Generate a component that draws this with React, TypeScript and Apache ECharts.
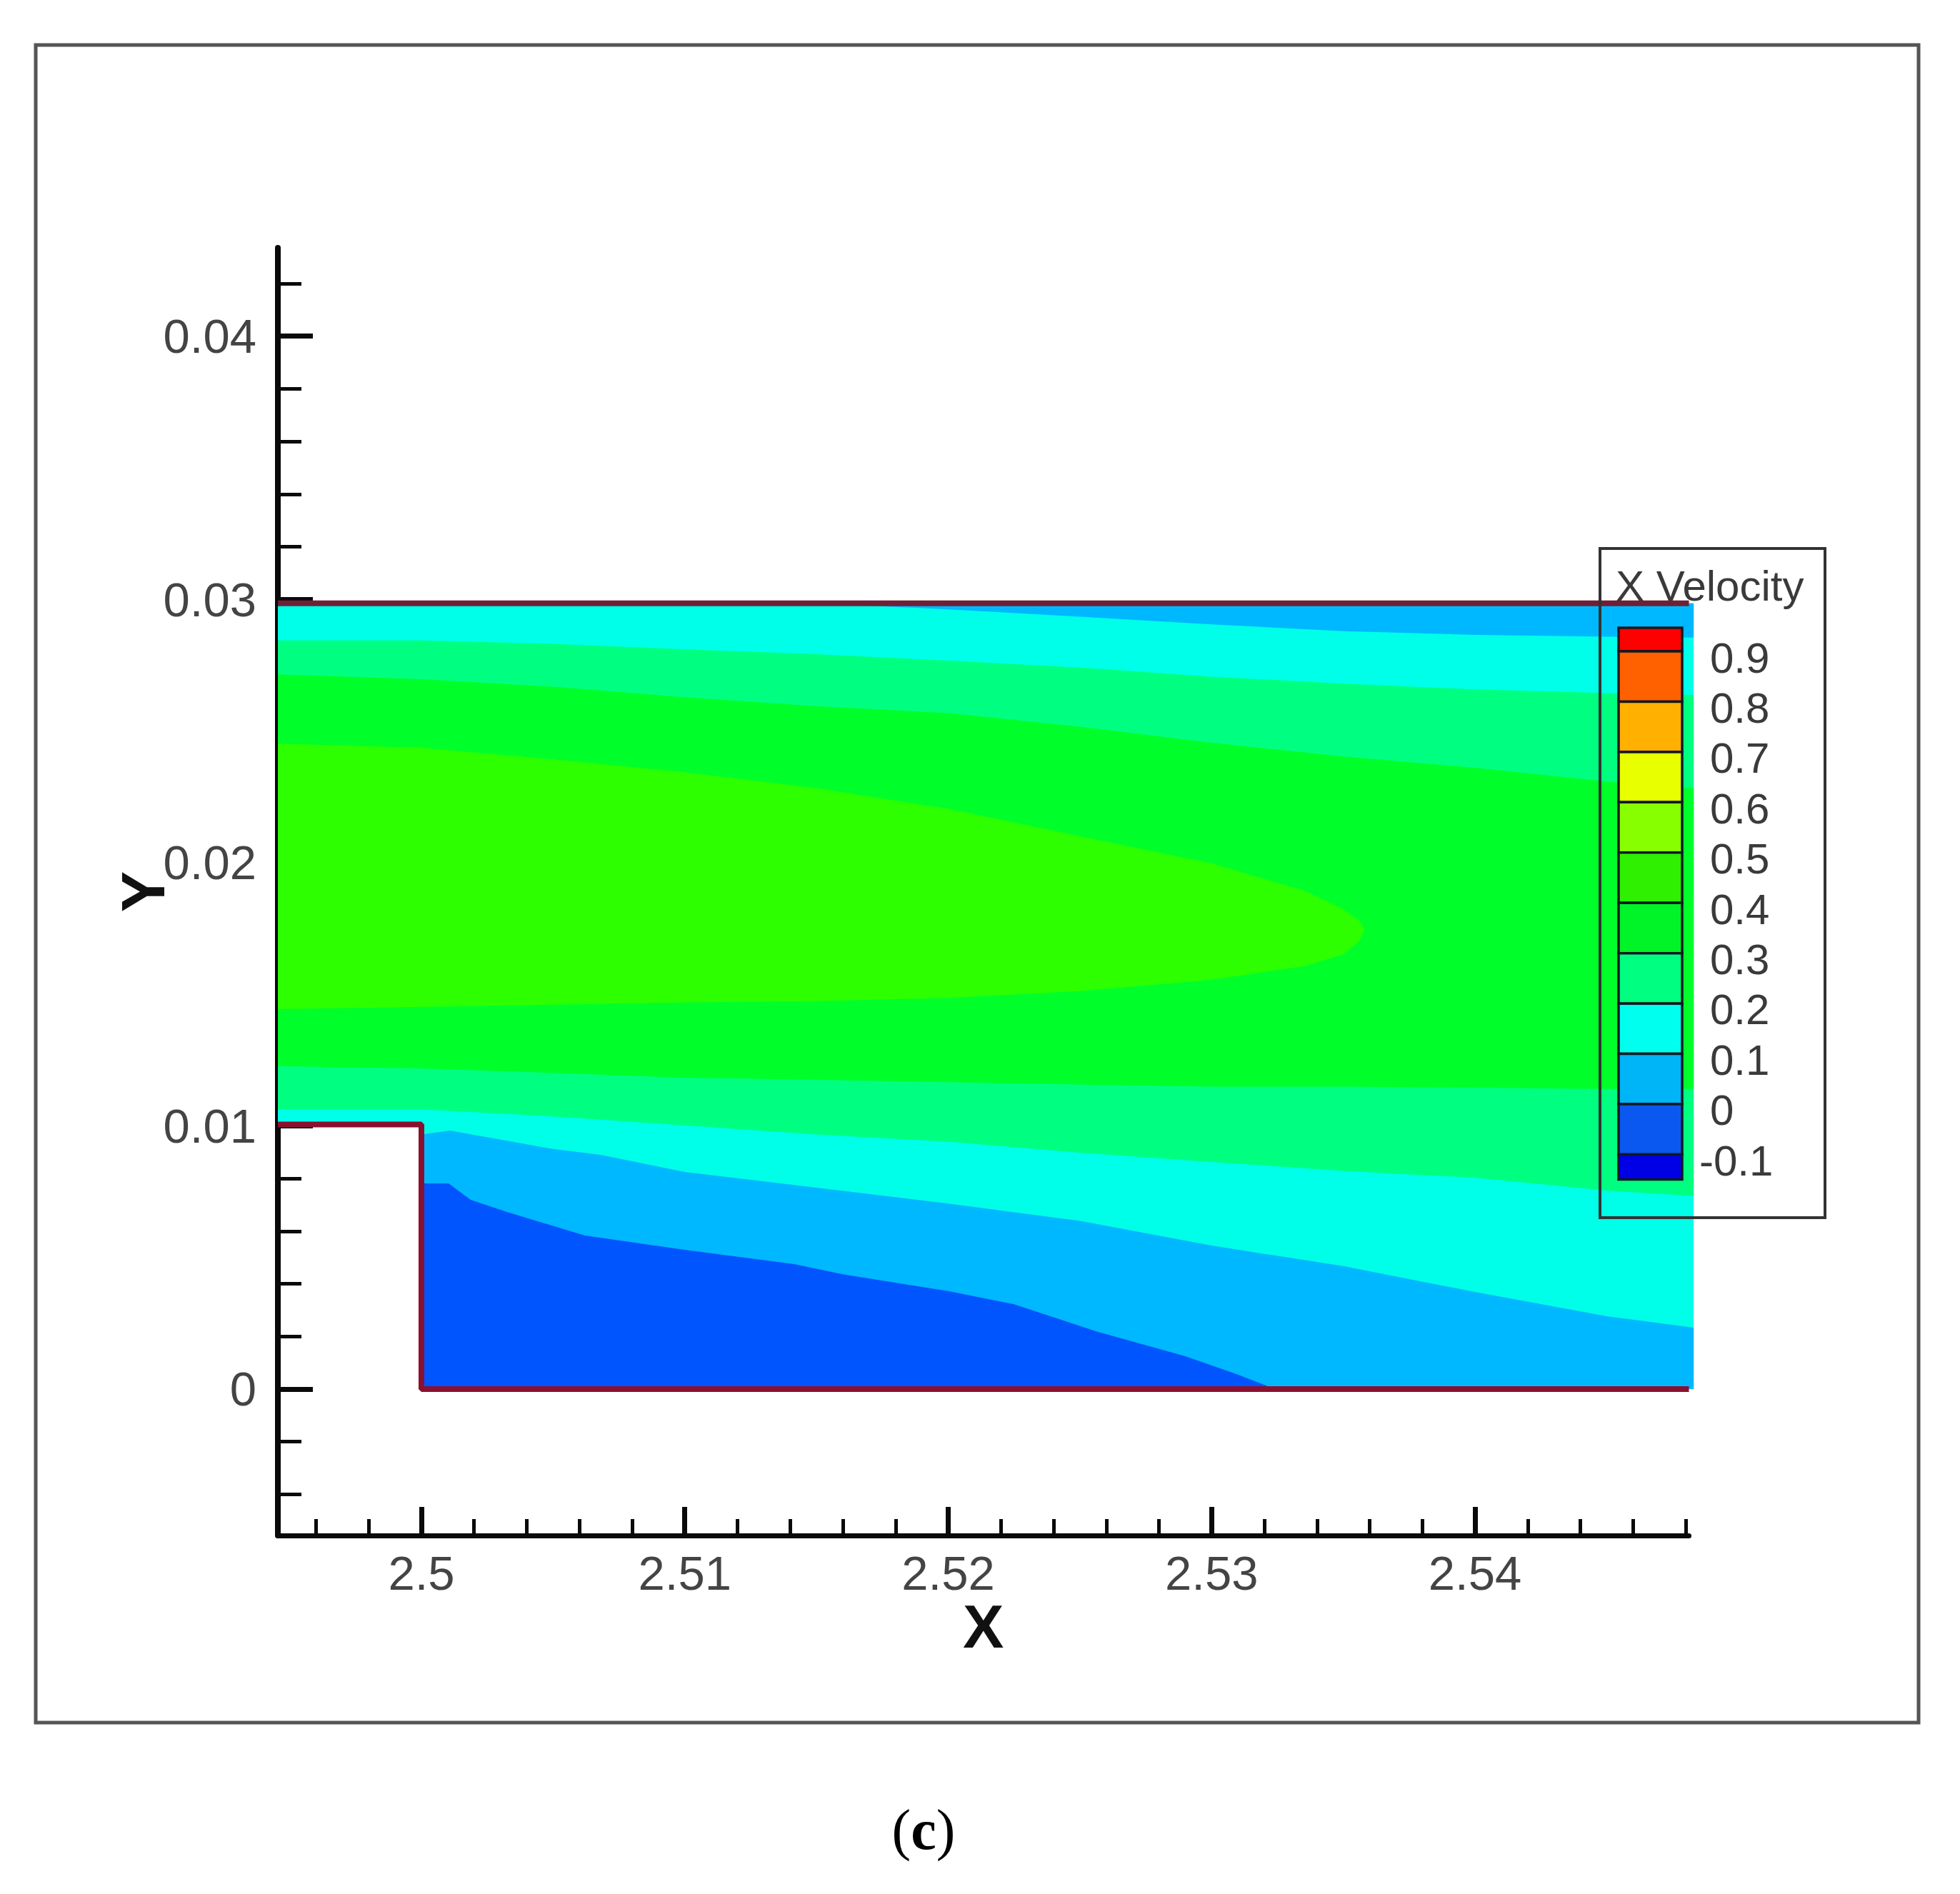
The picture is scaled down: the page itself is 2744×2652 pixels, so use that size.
import { useEffect, useRef } from 'react'
import * as echarts from 'echarts'

type Pt = [number, number]

const X_MIN = 2.49455
const X_MAX = 2.54812
const X_EDGE = 2.5483 // the coloured field runs a touch past the axis end
const Y_MIN = -0.005562
const Y_MAX = 0.043354

const xMajorTicks = [2.5, 2.51, 2.52, 2.53, 2.54]
const xMinorTicks = [
  2.496, 2.498, 2.502, 2.504, 2.506, 2.508, 2.512, 2.514, 2.516, 2.518, 2.522, 2.524, 2.526, 2.528, 2.532, 2.534,
  2.536, 2.538, 2.542, 2.544, 2.546, 2.548,
]
const yMajorTicks = [0, 0.01, 0.02, 0.03, 0.04]
const yMinorTicks = [
  -0.004, -0.002, 0.002, 0.004, 0.006, 0.008, 0.012, 0.014, 0.016, 0.018, 0.022, 0.024, 0.026, 0.028, 0.032, 0.034,
  0.036, 0.038, 0.042,
]

const legendLabels = ['0.9', '0.8', '0.7', '0.6', '0.5', '0.4', '0.3', '0.2', '0.1', '0', '-0.1']
const legendColors = [
  '#ff0000', '#ff6000', '#ffb000', '#e8ff00', '#88ff00', '#2ff000', '#00f428', '#00ff80', '#00ffee', '#00b4f8',
  '#0a58f0', '#0000e6',
]

const WALL_TOP = 0.02985
const STEP_TOP = 0.01005

// field outline
const fieldOutline: Pt[] = [
  [X_MIN, WALL_TOP], [X_EDGE, WALL_TOP], [X_EDGE, 0], [2.5, 0], [2.5, STEP_TOP], [X_MIN, STEP_TOP],
]

// contour lines, left to right
const topBlueEdge: Pt[] = [
  [2.515, WALL_TOP], [2.52, 0.02962], [2.525, 0.02934], [2.53, 0.02905], [2.535, 0.02879], [2.54, 0.02865],
  [2.545, 0.02858], [X_EDGE, 0.02855],
]
const upperMint: Pt[] = [
  [X_MIN, 0.02844], [2.5, 0.02844], [2.505, 0.02831], [2.51, 0.0281], [2.515, 0.02792], [2.52, 0.02767],
  [2.525, 0.02741], [2.53, 0.02706], [2.535, 0.0268], [2.54, 0.02658], [2.545, 0.02644], [X_EDGE, 0.02637],
]
const upperGreen: Pt[] = [
  [X_MIN, 0.02715], [2.5, 0.02697], [2.505, 0.02668], [2.51, 0.02628], [2.515, 0.02594], [2.52, 0.02568],
  [2.525, 0.02516], [2.53, 0.02455], [2.535, 0.02403], [2.54, 0.0236], [2.545, 0.02308], [X_EDGE, 0.02282],
]
const lowerGreen: Pt[] = [
  [X_MIN, 0.01227], [2.5, 0.01218], [2.505, 0.01201], [2.51, 0.01183], [2.515, 0.01175], [2.52, 0.01166],
  [2.525, 0.01157], [2.53, 0.01149], [2.535, 0.01149], [2.54, 0.01145], [2.545, 0.0114], [X_EDGE, 0.0114],
]
const lowerMint: Pt[] = [
  [X_MIN, 0.01062], [2.5, 0.01062], [2.505, 0.01036], [2.51, 0.01002], [2.515, 0.00967], [2.52, 0.0094],
  [2.525, 0.00898], [2.53, 0.00863], [2.535, 0.00829], [2.54, 0.00803], [2.545, 0.00754], [X_EDGE, 0.00734],
]
const lensOutline: Pt[] = [
  [X_MIN, 0.02452], [2.5, 0.02436], [2.505, 0.02392], [2.51, 0.02343], [2.515, 0.02282], [2.52, 0.02204],
  [2.525, 0.021], [2.53, 0.01997], [2.53352, 0.01893], [2.53498, 0.01824], [2.5356, 0.0178], [2.53581, 0.01746],
  [2.5356, 0.01702], [2.53498, 0.01651], [2.53352, 0.01607], [2.53, 0.01555], [2.525, 0.01512], [2.52, 0.01486],
  [2.515, 0.01474], [2.51, 0.01469], [2.505, 0.0146], [2.5, 0.01452], [X_MIN, 0.01443],
]
const lightBlueEdge: Pt[] = [
  [2.5, 0.00967], [2.50108, 0.00982], [2.505, 0.00912], [2.5068, 0.0089], [2.51, 0.00825], [2.515, 0.00765],
  [2.52, 0.00705], [2.525, 0.00639], [2.53, 0.00545], [2.535, 0.00467], [2.54, 0.00369], [2.545, 0.00277],
  [X_EDGE, 0.00233],
]
const blueEdge: Pt[] = [
  [2.5, 0.00781], [2.50103, 0.00781], [2.50187, 0.00719], [2.50325, 0.00673], [2.50621, 0.00583], [2.51, 0.00529],
  [2.51415, 0.00475], [2.516, 0.00436], [2.52, 0.00372], [2.5225, 0.00322], [2.5256, 0.0022], [2.529, 0.00125],
  [2.531, 0.00055], [2.5324, 0],
]

const wallTop: Pt[] = [[X_MIN, WALL_TOP], [X_MAX, WALL_TOP]]
const wallBottom: Pt[] = [[X_MIN, STEP_TOP], [2.5, STEP_TOP], [2.5, 0], [X_MAX, 0]]

const bands: { color: string; points: Pt[] }[] = [
  { color: '#00ffe8', points: fieldOutline },
  { color: '#00b8ff', points: [...topBlueEdge, [X_EDGE, WALL_TOP]] },
  { color: '#00ff80', points: [...upperMint, ...[...lowerMint].reverse()] },
  { color: '#00ff2a', points: [...upperGreen, ...[...lowerGreen].reverse()] },
  { color: '#2dff00', points: lensOutline },
  { color: '#00b8ff', points: [...lightBlueEdge, [X_EDGE, 0], [2.5, 0]] },
  { color: '#0055ff', points: [...blueEdge, [2.5, 0]] },
]

const FONT = '"Liberation Sans", Arial, sans-serif'

function legendGraphics() {
  const left = 2266
  const width = 89
  const top = 879
  const step = 70.45
  const items: any[] = []
  let y = top
  legendColors.forEach((color, i) => {
    const h = i === 0 ? 33 : i === legendColors.length - 1 ? 35 : step
    items.push({
      type: 'rect',
      z: 20,
      shape: { x: left, y, width, height: h },
      style: { fill: color, stroke: '#101820', lineWidth: 3.5 },
    })
    y += h
  })
  legendLabels.forEach((label, i) => {
    items.push({
      type: 'text',
      z: 20,
      x: label.startsWith('-') ? 2379 : 2394,
      y: 921 + i * 70.4,
      style: { text: label, font: `60px ${FONT}`, fill: '#3a3a3a', align: 'left', verticalAlign: 'middle' },
    })
  })
  items.push({
    type: 'rect',
    z: 20,
    shape: { x: 2240, y: 768, width: 315, height: 937 },
    style: { fill: 'transparent', stroke: '#333', lineWidth: 4 },
  })
  items.push({
    type: 'text',
    z: 20,
    x: 2262,
    y: 820,
    style: { text: 'X Velocity', font: `60px ${FONT}`, fill: '#3a3a3a', align: 'left', verticalAlign: 'middle' },
  })
  return items
}

export default function App() {
  const ref = useRef<HTMLDivElement | null>(null)

  useEffect(() => {
    if (!ref.current) return
    const chart = echarts.init(ref.current, null, { renderer: 'svg' })
    const tickLabel = { fontFamily: FONT, fontSize: 67, color: '#444' }
    const nameStyle = { fontFamily: FONT, fontSize: 86, fontWeight: 'bold' as const, color: '#111' }
    const black = '#0a0a0a'

    chart.setOption({
      animation: false,
      backgroundColor: '#fff',
      grid: { left: 389, top: 347, width: 1975.5, height: 1803, containLabel: false },
      xAxis: [
        {
          type: 'value',
          min: X_MIN,
          max: X_MAX,
          position: 'bottom',
          name: 'X',
          nameLocation: 'middle',
          nameGap: 84,
          nameMoveOverlap: false,
          nameTextStyle: nameStyle,
          splitLine: { show: false },
          axisLine: { show: true, onZero: false, lineStyle: { color: black, width: 7 } },
          axisTick: { show: true, inside: true, length: 40, customValues: xMajorTicks, lineStyle: { color: black, width: 7 } },
          axisLabel: { ...tickLabel, margin: 19, customValues: xMajorTicks, formatter: (v: number) => String(v) },
        },
        {
          type: 'value',
          min: X_MIN,
          max: X_MAX,
          position: 'bottom',
          splitLine: { show: false },
          axisLine: { show: false, onZero: false },
          axisTick: { show: true, inside: true, length: 23, customValues: xMinorTicks, lineStyle: { color: black, width: 5 } },
          axisLabel: { show: false },
        },
      ],
      yAxis: [
        {
          type: 'value',
          min: Y_MIN,
          max: Y_MAX,
          position: 'left',
          name: 'Y',
          nameLocation: 'middle',
          nameGap: 146,
          nameMoveOverlap: false,
          nameRotate: 90,
          nameTextStyle: nameStyle,
          splitLine: { show: false },
          axisLine: { show: true, onZero: false, lineStyle: { color: black, width: 8 } },
          axisTick: { show: true, inside: true, length: 49, customValues: yMajorTicks, lineStyle: { color: black, width: 7 } },
          axisLabel: { ...tickLabel, margin: 30, customValues: yMajorTicks, formatter: (v: number) => String(v) },
        },
        {
          type: 'value',
          min: Y_MIN,
          max: Y_MAX,
          position: 'left',
          splitLine: { show: false },
          axisLine: { show: false, onZero: false },
          axisTick: { show: true, inside: true, length: 33, customValues: yMinorTicks, lineStyle: { color: black, width: 5 } },
          axisLabel: { show: false },
        },
      ],
      series: [
        {
          type: 'custom',
          z: 1,
          silent: true,
          data: bands.map((_, i) => [i]),
          renderItem: (params: any, api: any) => {
            const band = bands[params.dataIndex]!
            return {
              type: 'polygon',
              shape: { points: band.points.map((p) => api.coord(p)) },
              style: { fill: band.color },
            }
          },
        },
        {
          type: 'line',
          z: 3,
          data: wallTop,
          symbol: 'none',
          silent: true,
          lineStyle: { color: '#6e2036', width: 8 },
        },
        {
          type: 'line',
          z: 3,
          data: wallBottom,
          symbol: 'none',
          silent: true,
          lineStyle: { color: '#8a1030', width: 8 },
        },
      ],
      graphic: {
        elements: [
          {
            type: 'rect',
            z: 20,
            shape: { x: 50, y: 63, width: 2636, height: 2349 },
            style: { fill: 'transparent', stroke: '#555', lineWidth: 5 },
          },
          ...legendGraphics(),
          {
            type: 'text',
            z: 20,
            x: 1293,
            y: 2562,
            style: {
              text: '{n|(}{b|c}{n|)}',
              align: 'center',
              verticalAlign: 'middle',
              rich: {
                n: { font: '80px "Liberation Serif", serif', fill: '#000' },
                b: { font: 'bold 80px "Liberation Serif", serif', fill: '#000' },
              },
            },
          },
        ],
      },
    })
    return () => chart.dispose()
  }, [])

  return <div ref={ref} style={{ position: 'fixed', left: 0, top: 0, width: 2744, height: 2652, background: '#fff' }} />
}
